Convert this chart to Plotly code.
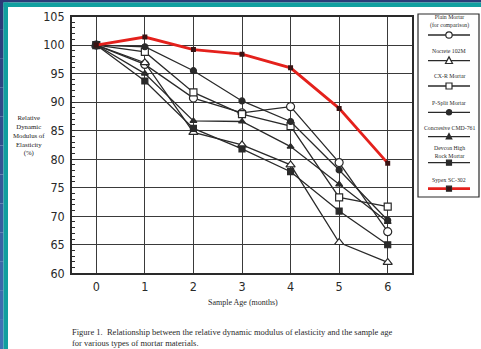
import plotly.graph_objects as go

W, H = 481, 349

# ---- data ----
months = [0, 1, 2, 3, 4, 5, 6]
plain_mortar = [100, 96.6, 90.7, 88.1, 89.2, 79.4, 67.3]
nocrete_102m = [100, 96.9, 84.7, 82.5, 79.0, 65.4, 61.9]
cxr_mortar = [100, 98.8, 91.7, 87.9, 85.8, 73.3, 71.7]
psplit_mortar = [100, 99.7, 95.5, 90.2, 86.6, 78.1, 69.3]
concresive_cmd761 = [100, 95.0, 86.7, 86.6, 82.2, 75.6, 69.0]
devcon_high_rock = [100, 93.7, 85.4, 81.8, 77.8, 70.9, 65.0]
sypex_sc302 = [100, 101.4, 99.2, 98.4, 96.0, 88.9, 79.3]

y_ticks = [60, 65, 70, 75, 80, 85, 90, 95, 100, 105]
x_ticks = [0, 1, 2, 3, 4, 5, 6]

series_names = ["Plain Mortar<br>(for comparison)", "Nocrete 102M", "CX-R Mortar",
                "P-Split Mortar", "Concresive CMD-761", "Devcon High<br>Rock Mortar",
                "Sypex SC-302"]

# ---- geometry helpers (pixel -> paper, margins are zero) ----
def PX(x):
    return x / W

def PY(y):
    return 1 - y / H

INK = "#2a2a2a"
RED = "#e4211c"
TEAL = "#119f9f"
SERIF = "Liberation Serif, Times New Roman, serif"
NARROW = "Liberation Sans Narrow, DejaVu Sans Condensed, Arial Narrow, sans-serif"

fig = go.Figure()

black_series = [
    (plain_mortar, "circle", 8, True, series_names[0]),
    (nocrete_102m, "triangle-up", 8, True, series_names[1]),
    (cxr_mortar, "square", 7, True, series_names[2]),
    (psplit_mortar, "circle", 6, False, series_names[3]),
    (concresive_cmd761, "triangle-up", 6, False, series_names[4]),
    (devcon_high_rock, "square", 6, False, series_names[5]),
]
for vals, sym, size, open_, name in black_series:
    fig.add_trace(go.Scatter(
        x=months, y=vals, mode="lines+markers", name=name,
        line=dict(color=INK, width=1.3),
        marker=dict(symbol=sym, size=size, color="white" if open_ else INK,
                    line=dict(color=INK, width=1.2)),
        showlegend=False,
    ))
fig.add_trace(go.Scatter(
    x=months, y=sypex_sc302, mode="lines+markers", name=series_names[6],
    line=dict(color=RED, width=2.8),
    marker=dict(symbol="square", size=5, color="#3a1414"),
    showlegend=False,
))

# ---- frame shapes ----
shapes = []
n = 12
c0 = (0x2b, 0x3b, 0x78)
c1 = (0x3f, 0x72, 0xb4)
for i in range(n):
    t = i / (n - 1)
    col = "rgb(%d,%d,%d)" % tuple(int(c0[k] + (c1[k] - c0[k]) * t) for k in range(3))
    shapes.append(dict(type="rect", xref="paper", yref="paper", x0=PX(0), x1=PX(3.5),
                       y0=PY(H * (i + 1) / n), y1=PY(H * i / n),
                       fillcolor=col, line=dict(width=0), layer="above"))
shapes.append(dict(type="rect", xref="paper", yref="paper", x0=PX(0), x1=PX(W),
                   y0=PY(2.5), y1=PY(0), fillcolor="#2b3b78", line=dict(width=0), layer="above"))
shapes.append(dict(type="rect", xref="paper", yref="paper", x0=PX(3.5), x1=PX(W),
                   y0=PY(7), y1=PY(2.5), fillcolor=TEAL, line=dict(width=0), layer="above"))
shapes.append(dict(type="rect", xref="paper", yref="paper", x0=PX(3.5), x1=PX(8),
                   y0=PY(H), y1=PY(2.5), fillcolor=TEAL, line=dict(width=0), layer="above"))

# ---- custom legend box ----
shapes.append(dict(type="rect", xref="paper", yref="paper", x0=PX(418), x1=PX(479),
                   y0=PY(197), y1=PY(14), line=dict(color=INK, width=1.2),
                   fillcolor="rgba(0,0,0,0)"))
legend_rows = [  # (text y, sample y, symbol)
    (22, 35, "circle-open"),
    (50.7, 60.7, "triangle-open"),
    (76, 86, "square-open"),
    (102.7, 112.3, "circle"),
    (128.3, 136.7, "triangle"),
    (151.5, 162.7, "square"),
    (180.3, 188.7, "square-red"),
]
annotations = []
cx = 449
for i, (ty, sy, sym) in enumerate(legend_rows):
    annotations.append(dict(xref="paper", yref="paper", x=PX(cx), y=PY(ty),
                            text=series_names[i], showarrow=False,
                            font=dict(family=SERIF, size=5.8, color=INK),
                            xanchor="center", yanchor="middle"))
    red = sym == "square-red"
    shapes.append(dict(type="line", xref="paper", yref="paper",
                       x0=PX(428), x1=PX(470), y0=PY(sy), y1=PY(sy),
                       line=dict(color=RED if red else INK, width=2.8 if red else 1.3)))
    fill = "white" if "open" in sym else ("#3a1414" if red else INK)
    if "circle" in sym:
        rr = 3.2 if "open" in sym else 2.6
        shapes.append(dict(type="circle", xref="paper", yref="paper",
                           x0=PX(cx - rr), x1=PX(cx + rr), y0=PY(sy + rr), y1=PY(sy - rr),
                           fillcolor=fill, line=dict(color=INK, width=1.2)))
    elif "square" in sym:
        rr = 3 if "open" in sym else 2.5
        shapes.append(dict(type="rect", xref="paper", yref="paper",
                           x0=PX(cx - rr), x1=PX(cx + rr), y0=PY(sy + rr), y1=PY(sy - rr),
                           fillcolor=fill, line=dict(color=INK, width=1.2)))
    else:
        rr = 3.5 if "open" in sym else 2.8
        path = "M %f %f L %f %f L %f %f Z" % (PX(cx - rr), PY(sy + rr * 0.8),
                                             PX(cx + rr), PY(sy + rr * 0.8),
                                             PX(cx), PY(sy - rr * 1.1))
        shapes.append(dict(type="path", xref="paper", yref="paper", path=path,
                           fillcolor=fill, line=dict(color=INK, width=1.2)))

# ---- text annotations ----
annotations.append(dict(xref="paper", yref="paper", x=PX(28.5), y=PY(135),
                        text="Relative<br>Dynamic<br>Modulus of<br>Elasticity<br>(%)",
                        showarrow=False, align="center",
                        font=dict(family=SERIF, size=6.8, color="#222222"),
                        xanchor="center", yanchor="middle"))
annotations.append(dict(xref="paper", yref="paper", x=PX(243), y=PY(302),
                        text="Sample Age (months)", showarrow=False,
                        font=dict(family=SERIF, size=8, color=INK),
                        xanchor="center", yanchor="middle"))
annotations.append(dict(xref="paper", yref="paper", x=PX(70), y=PY(337),
                        text="Figure 1.  Relationship between the relative dynamic modulus of elasticity and the sample age<br>for various types of mortar materials.",
                        showarrow=False, align="left",
                        font=dict(family=SERIF, size=8.5, color=INK),
                        xanchor="left", yanchor="middle"))

fig.update_layout(
    width=W, height=H, autosize=False,
    margin=dict(l=0, r=0, t=0, b=0, pad=0, autoexpand=False),
    paper_bgcolor="white", plot_bgcolor="white",
    shapes=shapes, annotations=annotations,
    showlegend=False,
    xaxis=dict(domain=[PX(72), PX(412)], range=[-0.5, 6.5], tickvals=x_ticks,
               ticktext=[str(v) for v in x_ticks], automargin=False,
               showgrid=True, gridcolor="#3a3a3a", gridwidth=1.3,
               zeroline=False, showline=True, linecolor=INK, linewidth=1.6, mirror=True,
               ticks="", tickfont=dict(family=NARROW, size=12.5, color=INK),
               ticklabelstandoff=1),
    yaxis=dict(domain=[PY(273.3), PY(16.5)], range=[60, 105], tickvals=y_ticks,
               ticktext=[str(v) for v in y_ticks], automargin=False,
               showgrid=True, gridcolor="#3a3a3a", gridwidth=1.3,
               zeroline=False, showline=True, linecolor=INK, linewidth=1.6, mirror=True,
               ticks="", tickfont=dict(family=NARROW, size=12.5, color=INK),
               minor=dict(dtick=1, ticks="inside", ticklen=3, tickcolor=INK, showgrid=False),
               ticklabelstandoff=3),
)

fig.write_html(
    "out.html",
    config={"displayModeBar": False},
    post_script="document.body.style.margin='0';document.body.style.overflow='hidden';",
)
